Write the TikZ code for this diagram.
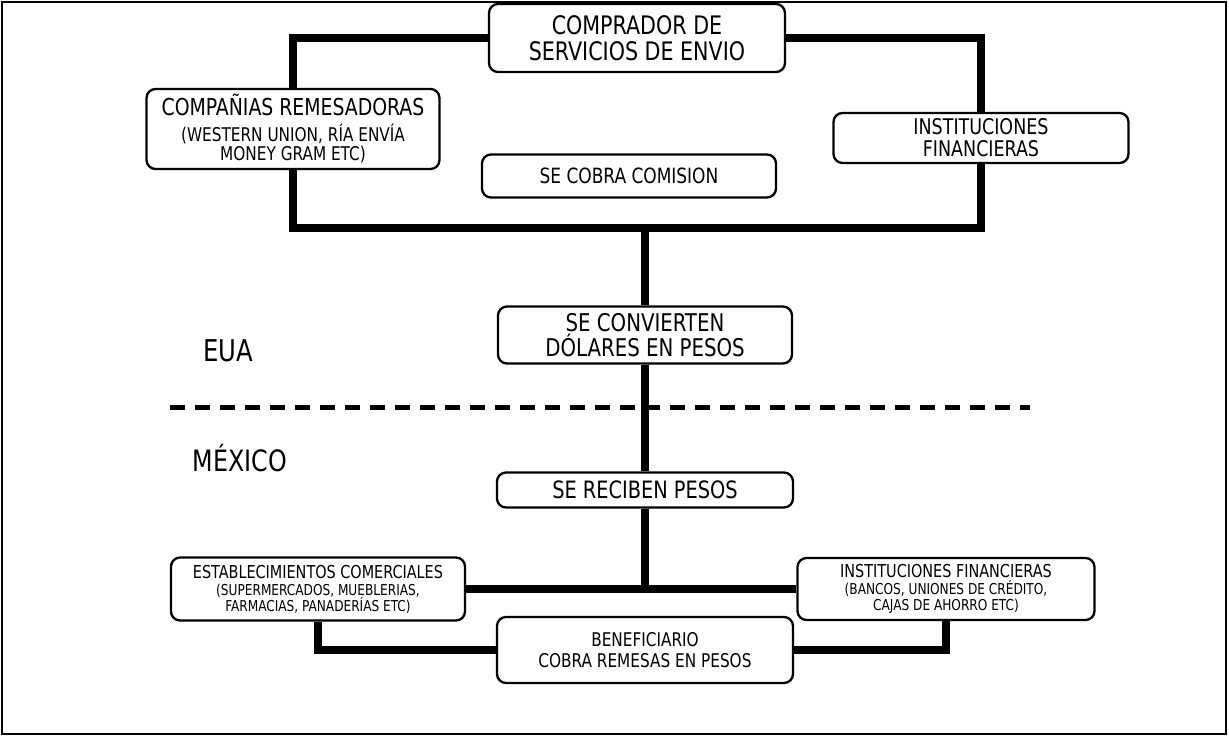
\documentclass[tikz,border=0pt]{standalone}
\usepackage{fontspec}
\setmainfont{DejaVu Sans Condensed}[FakeStretch=0.9]
\begin{document}
\begin{tikzpicture}[x=1pt,y=-1pt,
  caja/.style={draw, rounded corners=9pt, line width=2.3pt, align=center, inner sep=0pt},
  linea/.style={line width=8pt},
  grande/.style={font=\fontsize{25.5}{26}\selectfont},
  medio/.style={font=\fontsize{21}{22}\selectfont},
  chico/.style={font=\fontsize{15}{16}\selectfont}]
  \useasboundingbox (0,0) rectangle (1229,736);
  \draw[line width=2.5pt] (2,2) rectangle (1226,734);
  % EUA
  \node[caja, grande, minimum width=296pt, minimum height=68pt] (comprador) at (637,38)
    {COMPRADOR DE\\SERVICIOS DE ENVIO};
  \node[caja, font=\fontsize{18.9}{19}\selectfont, minimum width=293pt, minimum height=80pt] (remesa) at (293,129)
    {\fontsize{23.3}{24}\selectfont COMPAÑIAS REMESADORAS\\[7pt]
     (WESTERN UNION, RÍA ENVÍA\\MONEY GRAM ETC)};
  \node[caja, font=\fontsize{21.6}{22}\selectfont, minimum width=295pt, minimum height=50pt] (instit) at (981,138)
    {INSTITUCIONES\\FINANCIERAS};
  \node[caja, medio, minimum width=294pt, minimum height=43pt] (comision) at (629,176)
    {SE COBRA COMISION};
  \node[caja, font=\fontsize{24.4}{25}\selectfont, minimum width=294pt, minimum height=57pt] (convierte) at (645,335)
    {SE CONVIERTEN\\DÓLARES EN PESOS};
  \coordinate (junta) at (645,228);
  \draw[linea] (comprador.west) -| (remesa.north);
  \draw[linea] (comprador.east) -| (instit.north);
  \draw[linea] (remesa.south) |- (junta) -| (instit.south);
  \draw[linea] (junta) -- (convierte.north);
  % frontera
  \coordinate (fronteraA) at (170,407);
  \coordinate (fronteraB) at (1030,407);
  \draw[line width=5pt, dash pattern=on 15pt off 10pt] (fronteraA) -- (fronteraB);
  \node[font=\fontsize{30}{30}\selectfont] (eua) at (228,351) {EUA};
  \node[font=\fontsize{29.4}{30}\selectfont] (mexico) at (240,458) {MÉXICO};
  % MEXICO
  \node[caja, font=\fontsize{23.9}{24}\selectfont, minimum width=296pt, minimum height=35pt] (recibe) at (645,490)
    {SE RECIBEN PESOS};
  \node[caja, chico, minimum width=294pt, minimum height=63pt] (comercio) at (318,589)
    {\fontsize{17.8}{18}\selectfont ESTABLECIMIENTOS COMERCIALES\\[1pt]
     (SUPERMERCADOS, MUEBLERIAS,\\FARMACIAS, PANADERÍAS ETC)};
  \node[caja, chico, minimum width=297pt, minimum height=62pt] (financ) at (946,589)
    {\fontsize{17.8}{18}\selectfont INSTITUCIONES FINANCIERAS\\[1pt]
     (BANCOS, UNIONES DE CRÉDITO,\\CAJAS DE AHORRO ETC)};
  \node[caja, font=\fontsize{18.9}{21}\selectfont, minimum width=296pt, minimum height=66pt] (benef) at (645,650)
    {BENEFICIARIO\\COBRA REMESAS EN PESOS};
  \draw[linea] (convierte.south) -- (recibe.north);
  \draw[linea] (comercio.east) -- (financ.west);
  \draw[linea] (recibe.south) -- (recibe.south |- comercio.east);
  \draw[linea] (comercio.south) |- (benef.west);
  \draw[linea] (financ.south) |- (benef.east);
\end{tikzpicture}
\end{document}
